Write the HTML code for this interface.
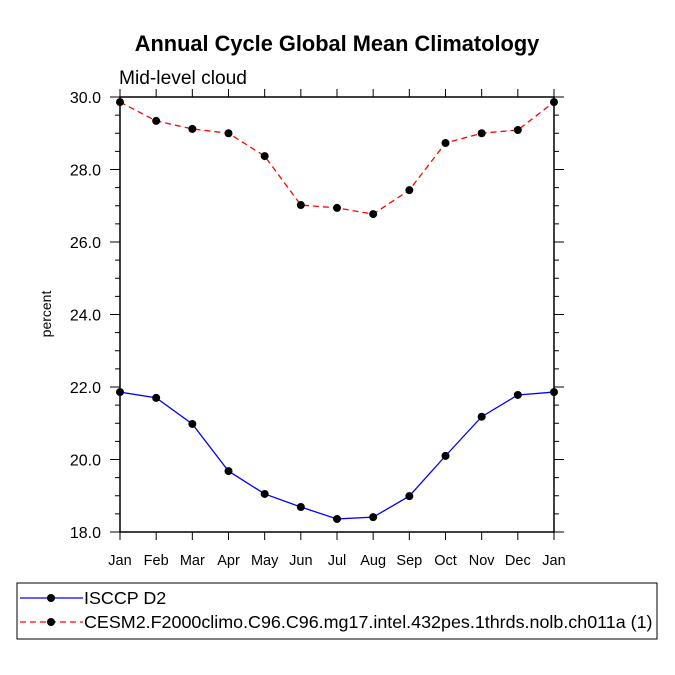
<!DOCTYPE html>
<html><head><meta charset="utf-8"><style>body{margin:0;background:#fff}svg{display:block;font-family:"Liberation Sans",sans-serif}</style></head>
<body>
<svg id="chart" width="675" height="675" viewBox="0 0 675 675">
<text x="337" y="51" text-anchor="middle" font-size="21.8" font-weight="bold">Annual Cycle Global Mean Climatology</text>
<text x="119" y="84" font-size="19.2">Mid-level cloud</text>
<text transform="translate(51,314) rotate(-90)" text-anchor="middle" font-size="14">percent</text>
<g id="ticks"></g>
<g id="series"></g>
<rect x="120" y="97" width="434" height="435" fill="none" stroke="#000" stroke-width="1.5"/>
<rect x="17" y="583" width="640" height="56" fill="none" stroke="#000" stroke-width="1"/>
<g id="legend"></g>
</svg>
<script>
const months=["Jan","Feb","Mar","Apr","May","Jun","Jul","Aug","Sep","Oct","Nov","Dec","Jan"];
const isccp=[21.86,21.70,20.98,19.68,19.05,18.69,18.36,18.41,18.99,20.10,21.18,21.78,21.86];
const cesm=[29.86,29.34,29.12,29.00,28.37,27.02,26.94,26.77,27.43,28.73,29.00,29.09,29.86];
const yTicks=[18,20,22,24,26,28,30];
const seriesNames=["ISCCP D2","CESM2.F2000climo.C96.C96.mg17.intel.432pes.1thrds.nolb.ch011a (1)"];
const NS="http://www.w3.org/2000/svg";
const X0=120,X1=554,Y0=532,Y1=97,YMIN=18,YMAX=30;
const xs=i=>X0+(X1-X0)*i/(months.length-1);
const ys=v=>Y0-(Y0-Y1)*(v-YMIN)/(YMAX-YMIN);
function mk(tag,attrs,parent){const e=document.createElementNS(NS,tag);for(const k in attrs)e.setAttribute(k,attrs[k]);parent.appendChild(e);return e;}
const tg=document.getElementById('ticks');
months.forEach((m,i)=>{const x=xs(i);
 let t=mk('line',{x1:x,x2:x,y1:Y0,y2:Y0+8,stroke:'#000'},tg);
 
 
 t=mk('line',{x1:x,x2:x,y1:Y1,y2:Y1-8,stroke:'#000'},tg);
 
 
 const l=mk('text',{x:x,y:Y0+33,'text-anchor':'middle','font-size':'14.5'},tg);l.textContent=m;
 
 
});
for(let v=YMIN;v<=YMAX+1e-9;v+=0.5){const y=ys(v);const major=Math.abs(v-Math.round(v/2)*2)<1e-9;const len=major?10:5;
 let t=mk('line',{x1:X0-len,x2:X0,y1:y,y2:y,stroke:'#000'},tg);
 
 
 t=mk('line',{x1:X1,x2:X1+len,y1:y,y2:y,stroke:'#000'},tg);
 
 
}
yTicks.forEach(v=>{const l=mk('text',{x:X0-19,y:ys(v)+6,'text-anchor':'end','font-size':'16'},tg);l.textContent=v.toFixed(1);
 
 });
const sg=document.getElementById('series');
function drawSeries(vals,color,dash,name){
 const p=mk('polyline',{points:vals.map((v,i)=>xs(i)+','+ys(v)).join(' '),fill:'none',stroke:color,'stroke-width':'1.3','stroke-dasharray':dash},sg);
 
 
 vals.forEach((v,i)=>{const c=mk('circle',{cx:xs(i),cy:ys(v),r:4,fill:'#000'},sg);
  
  });
}
drawSeries(isccp,'#0000ff','none','isccp');
drawSeries(cesm,'#ff0000','6,4','cesm');
const lg=document.getElementById('legend');
[['#0000ff','none',598],['#ff0000','6,4',622]].forEach((s,i)=>{
 const l=mk('line',{x1:20,x2:83,y1:s[2],y2:s[2],stroke:s[0],'stroke-width':'1.3','stroke-dasharray':s[1]},lg);
 
 
 const c=mk('circle',{cx:51,cy:s[2],r:4,fill:'#000'},lg);
 
 
 const t=mk('text',{x:84,y:s[2]+6,'font-size':'17.9'},lg);t.textContent=seriesNames[i];
 
 
});
</script>
</body></html>
